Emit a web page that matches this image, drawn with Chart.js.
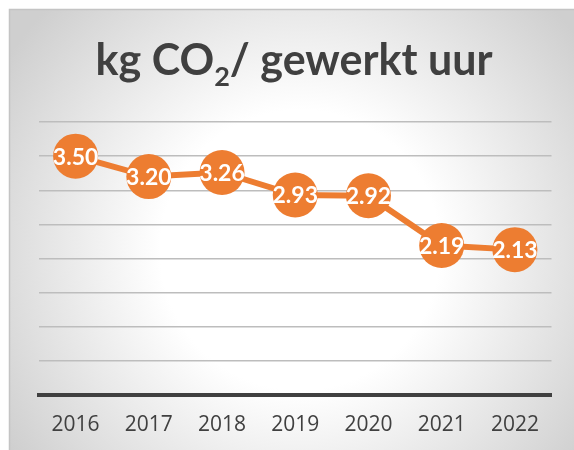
<!DOCTYPE html>
<html>
<head>
<meta charset="utf-8">
<script src="https://cdn.jsdelivr.net/npm/chart.js@4/dist/chart.umd.min.js"></script>
<style>
  html, body { margin: 0; padding: 0; background: #fff; }
  #wrap { width: 574px; height: 450px; position: relative; }
</style>
</head>
<body>
<div id="wrap"><canvas id="chart" width="574" height="450"></canvas></div>
<script>
var years = ['2016', '2017', '2018', '2019', '2020', '2021', '2022'];
var kgPerHour = [3.50, 3.20, 3.26, 2.93, 2.92, 2.19, 2.13];

var ORANGE = '#ED7D31';
var DARK = '#404040';

// card background with the soft radial shading
var backdrop = {
  id: 'backdrop',
  beforeDraw: function (chart) {
    var ctx = chart.ctx;
    ctx.save();
    ctx.fillStyle = '#ffffff';
    ctx.fillRect(0, 0, chart.width, chart.height);
    var g = ctx.createRadialGradient(300, 250, 0, 300, 250, 350);
    g.addColorStop(0, '#ffffff');
    g.addColorStop(0.4, '#ffffff');
    g.addColorStop(1, '#cfcfcf');
    ctx.fillStyle = g;
    ctx.fillRect(9, 9, chart.width - 9, chart.height - 9);
    ctx.strokeStyle = '#c4c4c4';
    ctx.lineWidth = 1.5;
    ctx.beginPath();
    ctx.moveTo(9.5, chart.height);
    ctx.lineTo(9.5, 9.5);
    ctx.lineTo(chart.width, 9.5);
    ctx.stroke();
    ctx.restore();
  }
};

// title with a subscript 2
var titleWithSub = {
  id: 'titleWithSub',
  afterDraw: function (chart) {
    var ctx = chart.ctx;
    var big = 'bold 43px Lato';
    var small = 'bold 27px Lato';
    var parts = [
      { t: 'kg CO', f: big, dy: 0 },
      { t: '2', f: small, dy: 11 },
      { t: '/ gewerkt uur', f: big, dy: 0 }
    ];
    ctx.save();
    var total = 0;
    parts.forEach(function (p) {
      ctx.font = p.f;
      p.w = ctx.measureText(p.t).width;
      total += p.w;
    });
    var x = 294 - total / 2;
    var baseY = 75;
    ctx.fillStyle = DARK;
    ctx.textBaseline = 'alphabetic';
    ctx.textAlign = 'left';
    parts.forEach(function (p) {
      ctx.font = p.f;
      ctx.fillText(p.t, x, baseY + p.dy);
      x += p.w;
    });
    ctx.restore();
  }
};

// values written in white inside each marker
var pointLabels = {
  id: 'pointLabels',
  afterDatasetsDraw: function (chart) {
    var ctx = chart.ctx;
    var meta = chart.getDatasetMeta(0);
    ctx.save();
    ctx.font = 'bold 23px Lato';
    ctx.fillStyle = '#ffffff';
    ctx.textAlign = 'center';
    ctx.textBaseline = 'middle';
    meta.data.forEach(function (pt, i) {
      ctx.fillText(kgPerHour[i].toFixed(2), pt.x, pt.y + 1);
    });
    ctx.restore();
  }
};

var ctx = document.getElementById('chart').getContext('2d');
var chart = new Chart(ctx, {
  type: 'line',
  data: {
    labels: years,
    datasets: [{
      data: kgPerHour,
      borderColor: ORANGE,
      borderWidth: 6,
      backgroundColor: ORANGE,
      pointBackgroundColor: ORANGE,
      pointBorderWidth: 0,
      pointRadius: 22.5,
      pointHoverRadius: 22.5,
      tension: 0,
      clip: false
    }]
  },
  options: {
    responsive: false,
    animation: false,
    events: [],
    layout: { padding: { left: 39, right: 18, top: 122, bottom: 0 } },
    plugins: {
      legend: { display: false },
      title: { display: false },
      tooltip: { enabled: false }
    },
    scales: {
      x: {
        offset: true,
        grid: { display: false, drawTicks: false, offset: true },
        border: { display: true, color: DARK, width: 4 },
        ticks: {
          color: DARK,
          font: { family: 'Open Sans', size: 21 },
          padding: 17
        },
        afterFit: function (s) { s.height = 55; }
      },
      y: {
        min: 0,
        max: 4,
        ticks: { display: false, stepSize: 0.5 },
        border: { display: false },
        grid: {
          drawTicks: false,
          color: function (c) { return c.tick.value === 0 ? 'rgba(0,0,0,0)' : '#bdbdbd'; },
          lineWidth: 1.5
        },
        afterFit: function (s) { s.width = 0; }
      }
    }
  },
  plugins: [backdrop, titleWithSub, pointLabels]
});
</script>
</body>
</html>
